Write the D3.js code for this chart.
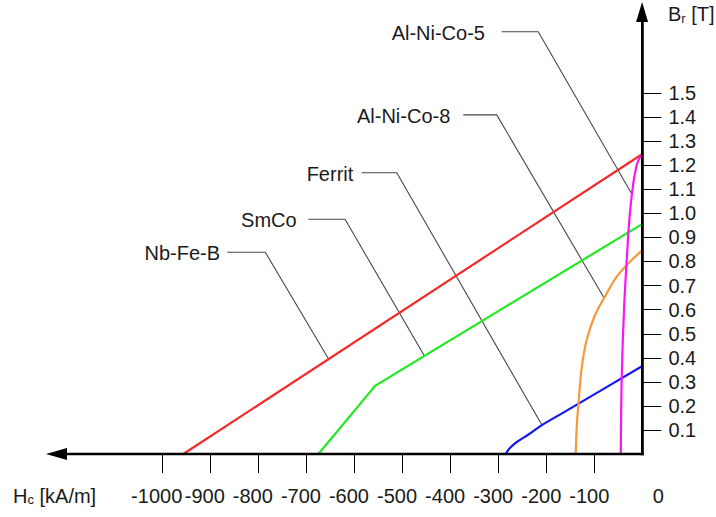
<!DOCTYPE html>
<html>
<head>
<meta charset="utf-8">
<script src="https://cdn.jsdelivr.net/npm/d3@7"></script>
<style>
  html, body { margin: 0; padding: 0; background: #fff; }
  svg { display: block; font-family: "Liberation Sans", Arial, sans-serif; }
</style>
</head>
<body>
<svg id="chart" width="716" height="517"></svg>
<script>
// ---- data (H in kA/m, B in T) ----
const xTicks = [-1000, -900, -800, -700, -600, -500, -400, -300, -200, -100];
const yTicks = [0.1, 0.2, 0.3, 0.4, 0.5, 0.6, 0.7, 0.8, 0.9, 1.0, 1.1, 1.2, 1.3, 1.4, 1.5];

const nbfebH = [-955, 0];
const nbfebB = [0, 1.245];

const smcoH = [-674, -556, 0];
const smcoB = [0, 0.283, 0.955];

const ferritH = [-284, -279, -265, -237, -209, -161, 0];
const ferritB = [0, 0.017, 0.044, 0.081, 0.12, 0.176, 0.365];

const alnico8H = [-138.7, -136.6, -133, -126, -116, -98.5, -78, -53.4, -25.8, 0];
const alnico8B = [0, 0.113, 0.21, 0.362, 0.473, 0.577, 0.653, 0.736, 0.798, 0.846];

const alnico5H = [-45, -43, -38, -32.6, -28, -22, -16, -9, 0];
const alnico5B = [0, 0.32, 0.611, 0.805, 0.95, 1.075, 1.16, 1.215, 1.245];

const labelNames   = ["Nb-Fe-B", "SmCo", "Ferrit", "Al-Ni-Co-8", "Al-Ni-Co-5"];
const labelTextH   = [-878.6, -719.2, -601.4, -399.6, -327.5];
const labelStartH  = [-863.5, -695, -584, -372.6, -292.7];
const labelElbowH  = [-784.5, -618.6, -511, -303, -216.6];
const labelB       = [0.837, 0.974, 1.167, 1.407, 1.752];
const anchorB      = [0.394, 0.407, 0.12, 0.647, 1.078];

// ---- chart ----
const svg = d3.select("#chart");
const x = d3.scaleLinear().domain([-1000, 0]).range([161.7, 642.4]);
const y = d3.scaleLinear().domain([0, 1.5]).range([454, 92.5]);

const fontSize = 20;
const textColor = "#1a1a1a";

const series = [
  { H: nbfebH,  B: nbfebB,  color: "#f42a2a", curve: d3.curveLinear },
  { H: smcoH,   B: smcoB,   color: "#22ea22", curve: d3.curveLinear },
  { H: ferritH, B: ferritB, color: "#1515f5", curve: d3.curveCatmullRom.alpha(0.5) },
  { H: alnico8H,B: alnico8B,color: "#f7993a", curve: d3.curveCatmullRom.alpha(0.5) },
  { H: alnico5H,B: alnico5B,color: "#f716f7", curve: d3.curveCatmullRom.alpha(0.5) }
];

// leader lines first (drawn under curves)
const gLead = svg.append("g");
labelNames.forEach((name, i) => {
  const s = series[i];
  let ah = s.H[s.H.length - 1];
  for (let k = 0; k < s.B.length - 1; k++) {
    if (anchorB[i] >= s.B[k] && anchorB[i] <= s.B[k + 1]) {
      const t = (anchorB[i] - s.B[k]) / (s.B[k + 1] - s.B[k]);
      ah = s.H[k] + t * (s.H[k + 1] - s.H[k]);
      break;
    }
  }
  const pts = [[labelStartH[i], labelB[i]], [labelElbowH[i], labelB[i]], [ah, anchorB[i]]];
  gLead.append("path")
    .attr("d", d3.line().x(d => x(d[0])).y(d => y(d[1]))(pts))
    .attr("fill", "none")
    .attr("stroke", "#474747")
    .attr("stroke-width", 1.1);
  svg.append("text")
    .attr("x", x(labelTextH[i]))
    .attr("y", y(labelB[i]))
    .attr("dy", "0.4em")
    .attr("text-anchor", "end")
    .attr("font-size", fontSize)
    .attr("fill", textColor)
    .text(name);
});

// curves
series.forEach(s => {
  const pts = s.H.map((h, i) => [h, s.B[i]]);
  svg.append("path")
    .attr("d", d3.line().x(d => x(d[0])).y(d => y(d[1])).curve(s.curve)(pts))
    .attr("fill", "none")
    .attr("stroke", s.color)
    .attr("stroke-width", 2.2)
    .attr("stroke-linecap", "round");
});

// axes lines
const x0 = x(0), y0 = y(0);
svg.append("line").attr("x1", 60).attr("y1", y0).attr("x2", x0 + 1.2).attr("y2", y0)
  .attr("stroke", "#000").attr("stroke-width", 2.6);
svg.append("line").attr("x1", x0).attr("y1", y0 + 1.2).attr("x2", x0).attr("y2", 16)
  .attr("stroke", "#000").attr("stroke-width", 2.8);
// arrowheads
svg.append("path").attr("d", `M46,${y0} L67,${y0 - 6} L67,${y0 + 6} Z`).attr("fill", "#000");
svg.append("path").attr("d", `M${x0 - 0.3},2 L${x0 - 6.3},22 L${x0 + 5.7},22 Z`).attr("fill", "#000");

// x ticks
const gx = svg.append("g");
xTicks.forEach(v => {
  gx.append("line").attr("x1", Math.round(x(v)) + 0.5).attr("x2", Math.round(x(v)) + 0.5)
    .attr("y1", y0).attr("y2", y0 + 19).attr("stroke", "#000").attr("stroke-width", 1);
  gx.append("text").attr("x", x(v) - 5).attr("y", 503)
    .attr("text-anchor", "middle").attr("font-size", fontSize).attr("fill", textColor)
    .text(String(v));
});
gx.append("text").attr("x", x0 + 16).attr("y", 503)
  .attr("text-anchor", "middle").attr("font-size", fontSize).attr("fill", textColor).text("0");

// y ticks
const gy = svg.append("g");
yTicks.forEach(v => {
  gy.append("line").attr("x1", x0).attr("x2", x0 + 19)
    .attr("y1", Math.round(y(v)) + 0.5).attr("y2", Math.round(y(v)) + 0.5)
    .attr("stroke", "#000").attr("stroke-width", 1);
  gy.append("text").attr("x", x0 + 26).attr("y", y(v)).attr("dy", "0.36em")
    .attr("font-size", fontSize).attr("fill", textColor).text(d3.format(".1f")(v));
});

// axis titles
const bt = svg.append("text").attr("x", 668).attr("y", 21)
  .attr("font-size", fontSize).attr("fill", textColor);
bt.append("tspan").text("B");
bt.append("tspan").attr("font-size", 13).attr("dy", 2).text("r");
bt.append("tspan").attr("dy", -2).text(" [T]");

const ht = svg.append("text").attr("x", 13).attr("y", 503)
  .attr("font-size", fontSize).attr("fill", textColor);
ht.append("tspan").text("H");
ht.append("tspan").attr("font-size", 13).attr("dy", 1).text("c");
ht.append("tspan").attr("dy", -1).text(" [kA/m]");
</script>
</body>
</html>
